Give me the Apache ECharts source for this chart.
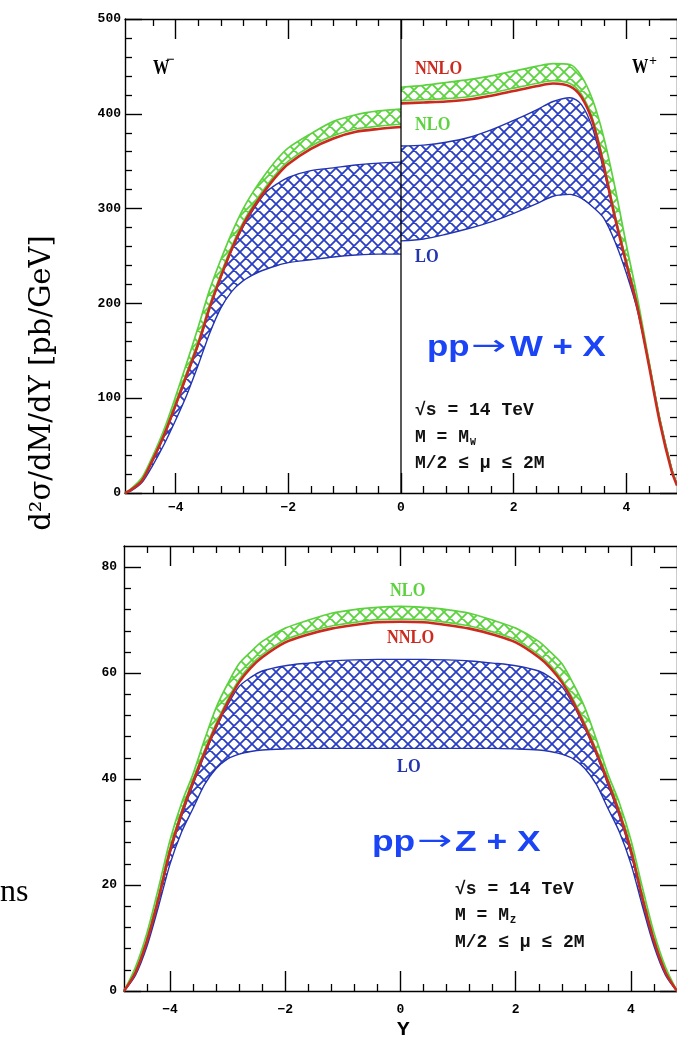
<!DOCTYPE html>
<html><head><meta charset="utf-8">
<script src="https://cdn.jsdelivr.net/npm/echarts@6/dist/echarts.min.js"></script>
<style>html,body{margin:0;padding:0;background:#fff}#c{width:677px;height:1047px}</style>
</head><body><div id="c"></div>
<script>
// ---------------- DATA ----------------
// W- panel side (Y < 0)
const Y_WM      = [-4.9,-4.8,-4.6,-4.4,-4.2,-4.0,-3.8,-3.6,-3.4,-3.2,-3.0,-2.8,-2.6,-2.4,-2.2,-2.0,-1.6,-1.2,-0.8,-0.4,0];
const WM_NNLO   = [0,3,13,36,62,93,125,157,195,228,258,283,303,320,335,347,363,374,381,384,386];
const WM_NLO_HI = [0,4,16,40,68,102,138,175,214,246,275,300,320,337,352,364,379,392,399,403,405];
const WM_NLO_LO = [0,3,14,37,64,96,128,160,198,231,261,286,306,323,338,350,366,377,384,387,389];
const WM_LO_HI  = [0,3,13,35,61,92,124,156,194,227,257,281,301,317,326,333,340,343,346,348,349];
const WM_LO_LO  = [0,2,11,30,52,77,104,135,168,195,213,224,231,236,240,243,246,249,251,252,252];
// W+ panel side (Y > 0)
const Y_WP      = [0,0.4,0.8,1.2,1.6,2.0,2.4,2.7,3.0,3.2,3.4,3.6,3.8,4.0,4.2,4.4,4.6,4.8,4.9];
const WP_NNLO   = [411,412,413,415,419,424,429,432,429,418,392,345,290,242,195,135,73,24,8];
const WP_NLO_HI = [428,430,433,436,440,445,450,453,452,440,415,375,322,262,205,140,77,27,9];
const WP_NLO_LO = [414,415,416,418,422,427,432,435,432,421,395,348,293,245,197,137,75,25,8];
const WP_LO_HI  = [366,367,370,375,383,393,404,413,417,410,385,340,292,244,198,139,77,27,9];
const WP_LO_LO  = [266,268,273,279,286,295,305,313,315,311,302,290,265,232,192,136,75,26,9];
// Z panel
const Y_Z       = [-4.8,-4.6,-4.4,-4.2,-4.0,-3.8,-3.6,-3.4,-3.2,-3.0,-2.8,-2.6,-2.4,-2.0,-1.6,-1.2,-0.8,-0.4,0,0.4,0.8,1.2,1.6,2.0,2.4,2.6,2.8,3.0,3.2,3.4,3.6,3.8,4.0,4.2,4.4,4.6,4.8];
const Z_NNLO    = [0,3.5,9.5,17.5,26.5,33.5,39.5,45,50,54.5,58.3,61,63,65.8,67.3,68.4,69.1,69.6,69.7,69.6,69.1,68.4,67.3,65.8,63,61,58.3,54.5,50,45,39.5,33.5,26.5,17.5,9.5,3.5,0];
const Z_NLO_HI  = [0,4.5,11,19.5,28.5,35.5,41,47.5,53.5,58,61.8,64,66,68.5,70,71.3,72,72.4,72.6,72.4,72,71.3,70,68.5,66,64,61.8,58,53.5,47.5,41,35.5,28.5,19.5,11,4.5,0];
const Z_NLO_LO  = [0,3.7,9.8,17.9,27,34,40,45.5,50.5,55,58.8,61.5,63.5,66.3,67.8,68.9,69.6,70.1,70.2,70.1,69.6,68.9,67.8,66.3,63.5,61.5,58.8,55,50.5,45.5,40,34,27,17.9,9.8,3.7,0];
const Z_LO_HI   = [0,3.3,9.2,17,26,33,39,44.6,49.6,54,57.5,59.2,60.4,61.4,61.9,62.3,62.5,62.6,62.6,62.6,62.5,62.3,61.9,61.4,60.4,59.2,57.5,54,49.6,44.6,39,33,26,17,9.2,3.3,0];
const Z_LO_LO   = [0,3,8.5,16,24,30,34.5,39,42,43.8,44.7,45.2,45.5,45.7,45.8,45.8,45.8,45.8,45.8,45.8,45.8,45.8,45.8,45.7,45.5,45.2,44.7,43.8,42,39,34.5,30,24,16,8.5,3,0];
// tick labels / positions
const X_MAJOR   = [-4,-2,0,2,4];
const X_MINOR   = [-4.4,-3.6,-3.2,-2.8,-2.4,-1.6,-1.2,-0.8,-0.4,0.4,0.8,1.2,1.6,2.4,2.8,3.2,3.6,4.4];
const W_Y_MAJOR = [0,100,200,300,400,500];
const Z_Y_MAJOR = [0,20,40,60,80];
const Z_Y_MINOR = [4,8,12,16,24,28,32,36,44,48,52,56,64,68,72,76];

// ---------------- STYLE ----------------
const C_GREEN = '#5cd23e', C_RED = '#cc2a1e', C_BLUE = '#2234b0', C_BLUEH = '#2a3ec4';
const TICKFONT = {fontFamily:'"Liberation Mono"', fontWeight:'bold', fontSize:13, color:'#000'};

function hatch(color, s, lw){
  const c = document.createElement('canvas'); c.width = s; c.height = s;
  const g = c.getContext('2d'); g.strokeStyle = color; g.lineWidth = lw; g.beginPath();
  for (let k=-1;k<=1;k++){ g.moveTo(k*s,0); g.lineTo(k*s+s,s); g.moveTo(k*s+s,0); g.lineTo(k*s,s); }
  g.stroke(); return c;
}
const PAT_BLUE  = {image: hatch(C_BLUEH, 12, 1.8), repeat:'repeat'};
const PAT_GREEN = {image: hatch(C_GREEN, 12, 1.8), repeat:'repeat'};

function band(xs, lo, hi, pat, xi, yi){
  return {type:'custom', xAxisIndex:xi, yAxisIndex:yi, silent:true, data:[[xs[0], lo[0]]],
    renderItem:function(p, api){
      const pts=[];
      for (let i=0;i<xs.length;i++) pts.push(api.coord([xs[i], hi[i]]));
      for (let i=xs.length-1;i>=0;i--) pts.push(api.coord([xs[i], lo[i]]));
      return {type:'polygon', shape:{points:pts}, style:{fill:pat, stroke:null}};
    }};
}
function line(xs, ys, color, w, xi, yi, z){
  return {type:'line', xAxisIndex:xi, yAxisIndex:yi, data: xs.map((x,i)=>[x, ys[i]]),
    showSymbol:false, smooth:0.3, silent:true, z:z||3, lineStyle:{color:color, width:w}};
}
const fmt = v => String(v).replace('-', '\u2212');

function xAxes(gi, min, max){
  const base = {gridIndex:gi, type:'value', min:min, max:max, splitLine:{show:false}};
  const lineS = {show:true, onZero:false, lineStyle:{color:'#000', width:1.4}};
  return [
    Object.assign({}, base, {position:'bottom', axisLine:lineS,
      axisTick:{show:true, inside:true, length:20, customValues:X_MAJOR, lineStyle:{color:'#000', width:1.4}},
      axisLabel:Object.assign({customValues:X_MAJOR, formatter:fmt, margin: gi===0?8:12}, TICKFONT)}),
    Object.assign({}, base, {position:'bottom', axisLine:{show:false, onZero:false},
      axisTick:{show:true, inside:true, length:7, customValues:X_MINOR, lineStyle:{color:'#000', width:1.3}},
      axisLabel:{show:false}}),
    Object.assign({}, base, {position:'top', axisLine:lineS,
      axisTick:{show:true, inside:true, length:20, customValues:X_MAJOR, lineStyle:{color:'#000', width:1.4}},
      axisLabel:{show:false}}),
    Object.assign({}, base, {position:'top', axisLine:{show:false, onZero:false},
      axisTick:{show:true, inside:true, length:7, customValues:X_MINOR, lineStyle:{color:'#000', width:1.3}},
      axisLabel:{show:false}})
  ];
}
function yAxesW(){
  const mk = (pos, lab) => ({gridIndex:0, type:'value', min:0, max:500, interval:100, position:pos,
    splitLine:{show:false}, axisLine:{show:true, onZero:false, lineStyle:{color:'#000', width:1.4}},
    axisTick:{show:true, inside:true, length:17, lineStyle:{color:'#000', width:1.4}},
    minorTick:{show:true, splitNumber:5, length:7, lineStyle:{color:'#000', width:1.3}},
    axisLabel:Object.assign({show:lab, margin:4, customValues:W_Y_MAJOR}, TICKFONT)});
  return [mk('left', true), mk('right', false)];
}
function yAxesZ(){
  const mkMain = (pos, lab) => ({gridIndex:1, type:'value', min:0, max:84, position:pos,
    splitLine:{show:false}, axisLine:{show:true, onZero:false, lineStyle:{color:'#000', width:1.4}},
    axisTick:{show:true, inside:true, length:17, customValues:Z_Y_MAJOR, lineStyle:{color:'#000', width:1.4}},
    axisLabel:Object.assign({show:lab, margin:7, customValues:Z_Y_MAJOR}, TICKFONT)});
  const mkMinor = (pos) => ({gridIndex:1, type:'value', min:0, max:84, position:pos,
    splitLine:{show:false}, axisLine:{show:false, onZero:false},
    axisTick:{show:true, inside:true, length:7, customValues:Z_Y_MINOR, lineStyle:{color:'#000', width:1.3}},
    axisLabel:{show:false}});
  return [mkMain('left', true), mkMinor('left'), mkMain('right', false), mkMinor('right')];
}

// ---------------- ANNOTATIONS ----------------
function txt(s, x, y, font, color, opts){
  return Object.assign({type:'text', x:x, y:y, silent:true, z:50,
    style:{text:s, x:0, y:0, font:font, fill:color, align:'left', verticalAlign:'middle'}}, opts||{});
}
const SERIFB = '"Liberation Serif"';
const MONO = '"Liberation Mono"';
const SANSB = 'bold 29px "Liberation Sans"';
const ARROW = '29px "DejaVu Sans"';
const C_TITLE = '#1a44f5';
const graphics = [
  txt('W', 153, 69, 'bold 21px '+SERIFB, '#000', {scaleX:0.78}),
  txt('\u2212', 166, 60, 'bold 15px '+SERIFB, '#000'),
  txt('W', 632, 68, 'bold 21px '+SERIFB, '#000', {scaleX:0.78}),
  txt('+', 649, 61, 'bold 14px '+SERIFB, '#000'),
  txt('NNLO', 415, 69, 'bold 19px '+SERIFB, C_RED, {scaleX:0.86}),
  txt('NLO', 415, 125, 'bold 19px '+SERIFB, C_GREEN, {scaleX:0.86}),
  txt('LO', 415, 257, 'bold 19px '+SERIFB, C_BLUE, {scaleX:0.86}),
  // pp -> W + X
  txt('pp', 427, 348, SANSB, C_TITLE, {scaleX:1.2}),
  txt('\u2192', 471, 347, ARROW, C_TITLE, {scaleX:1.45}),
  txt('W + X', 510, 348, SANSB, C_TITLE, {scaleX:1.2}),
  txt('\u221As = 14 TeV', 415, 410, 'bold 18px '+MONO, '#111'),
  txt('M = M', 415, 437, 'bold 18px '+MONO, '#111'),
  txt('W', 470, 442, 'bold 10px '+MONO, '#111'),
  txt('M/2 \u2264 \u03BC \u2264 2M', 415, 463, 'bold 18px '+MONO, '#111'),
  txt('NLO', 390, 591, 'bold 19px '+SERIFB, C_GREEN, {scaleX:0.86}),
  txt('NNLO', 387, 638, 'bold 19px '+SERIFB, C_RED, {scaleX:0.86}),
  txt('LO', 397, 767, 'bold 19px '+SERIFB, C_BLUE, {scaleX:0.86}),
  // pp -> Z + X
  txt('pp', 372, 843, SANSB, C_TITLE, {scaleX:1.22}),
  txt('\u2192', 417, 842, ARROW, C_TITLE, {scaleX:1.45}),
  txt('Z + X', 455, 843, SANSB, C_TITLE, {scaleX:1.22}),
  txt('\u221As = 14 TeV', 455, 889, 'bold 18px '+MONO, '#111'),
  txt('M = M', 455, 915, 'bold 18px '+MONO, '#111'),
  txt('Z', 510, 920, 'bold 10px '+MONO, '#111'),
  txt('M/2 \u2264 \u03BC \u2264 2M', 455, 942, 'bold 18px '+MONO, '#111'),
  txt('Y', 397, 1030, 'bold 21px '+MONO, '#000'),
  {type:'text', x:42, y:383, rotation:Math.PI/2, silent:true, z:50,
   style:{text:'d\u00B2\u03C3/dM/dY [pb/GeV]', x:0, y:0, font:'29px "DejaVu Serif"', fill:'#000', align:'center', verticalAlign:'middle'}},
  txt('ns', 0, 893, '32px '+SERIFB, '#000')
];

// ---------------- SERIES ----------------
const series = [
  band(Y_WM, WM_LO_LO, WM_LO_HI, PAT_BLUE, 0, 0),
  band(Y_WP, WP_LO_LO, WP_LO_HI, PAT_BLUE, 0, 0),
  line(Y_WM, WM_LO_LO, C_BLUE, 1.4, 0, 0), line(Y_WM, WM_LO_HI, C_BLUE, 1.4, 0, 0),
  line(Y_WP, WP_LO_LO, C_BLUE, 1.4, 0, 0), line(Y_WP, WP_LO_HI, C_BLUE, 1.4, 0, 0),
  band(Y_WM, WM_NLO_LO, WM_NLO_HI, PAT_GREEN, 0, 0),
  band(Y_WP, WP_NLO_LO, WP_NLO_HI, PAT_GREEN, 0, 0),
  line(Y_WM, WM_NLO_LO, C_GREEN, 1.7, 0, 0), line(Y_WM, WM_NLO_HI, C_GREEN, 1.7, 0, 0),
  line(Y_WP, WP_NLO_LO, C_GREEN, 1.7, 0, 0), line(Y_WP, WP_NLO_HI, C_GREEN, 1.7, 0, 0),
  line(Y_WM, WM_NNLO, C_RED, 2.6, 0, 0, 5), line(Y_WP, WP_NNLO, C_RED, 2.6, 0, 0, 5),
  {type:'line', xAxisIndex:0, yAxisIndex:0, data:[[0,0],[0,500]], showSymbol:false, silent:true, z:6,
   lineStyle:{color:'#000', width:1.3}},
  band(Y_Z, Z_LO_LO, Z_LO_HI, PAT_BLUE, 4, 2),
  line(Y_Z, Z_LO_LO, C_BLUE, 1.4, 4, 2), line(Y_Z, Z_LO_HI, C_BLUE, 1.4, 4, 2),
  band(Y_Z, Z_NLO_LO, Z_NLO_HI, PAT_GREEN, 4, 2),
  line(Y_Z, Z_NLO_LO, C_GREEN, 1.7, 4, 2), line(Y_Z, Z_NLO_HI, C_GREEN, 1.7, 4, 2),
  line(Y_Z, Z_NNLO, C_RED, 2.6, 4, 2, 5)
];

const chart = echarts.init(document.getElementById('c'), null, {renderer:'canvas'});
chart.setOption({
  animation:false, backgroundColor:'#fff',
  grid:[{left:125, top:19, width:560, height:474}, {left:124, top:546, width:560, height:445}],
  xAxis: xAxes(0, -4.9, 4.9).concat(xAxes(1, -4.8, 4.8)),
  yAxis: yAxesW().concat(yAxesZ()),
  series: series,
  graphic: graphics
});
</script></body></html>
